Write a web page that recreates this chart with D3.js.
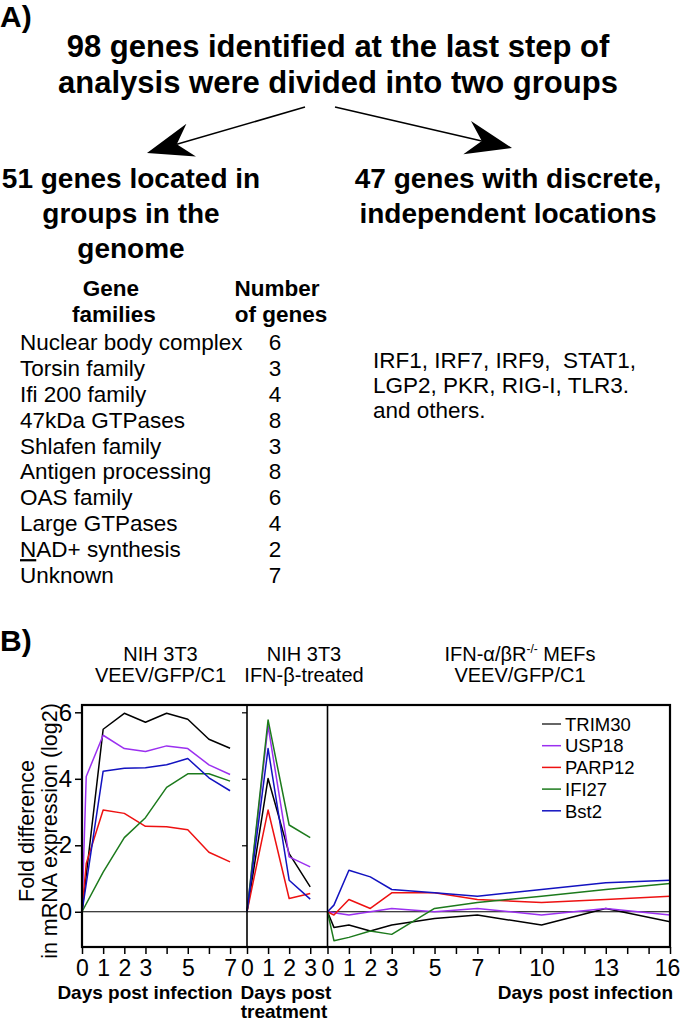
<!DOCTYPE html>
<html><head><meta charset="utf-8">
<script src="https://cdn.jsdelivr.net/npm/d3@7"></script>
<style>
body{margin:0;background:#fff}
svg{display:block}
text{font-family:"Liberation Sans",Arial,Helvetica,sans-serif;fill:#000}
</style>
</head><body>
<svg id="c" width="680" height="1021"></svg>
<script>
// ---------- Panel A content ----------
const titleLines = ["98 genes identified at the last step of", "analysis were divided into two groups"];
const leftHeading = ["51 genes located in", "groups in the", "genome"];
const rightHeading = ["47 genes with discrete,", "independent locations"];
const familyNames = ["Nuclear body complex", "Torsin family", "Ifi 200 family", "47kDa GTPases", "Shlafen family",
  "Antigen processing", "OAS family", "Large GTPases", "NAD+ synthesis", "Unknown"];
const familyCounts = [6, 3, 4, 8, 3, 8, 6, 4, 2, 7];
const otherGenes = ["IRF1, IRF7, IRF9,  STAT1,", "LGP2, PKR, RIG-I, TLR3.", "and others."];

// ---------- Panel B data ----------
const seriesNames = ["TRIM30", "USP18", "PARP12", "IFI27", "Bst2"];
const seriesColors = ["#000000", "#9b30f0", "#ee1111", "#1c7a1c", "#1212c0"];
const legendColors = ["#333333", "#9b30f0", "#ee1111", "#1c7a1c", "#1212c0"];

// NIH 3T3, VEEV/GFP/C1 (days post infection)
const daysInfected = [0, 0.2, 1, 2, 3, 4, 5, 6, 7];
const trim30Infected = [0, null, 5.49, 5.97, 5.70, 5.97, 5.79, 5.19, 4.92];
const usp18Infected = [0, 4.07, 5.31, 4.91, 4.82, 4.99, 4.91, 4.42, 4.13];
const parp12Infected = [0, 1.45, 3.06, 2.96, 2.57, 2.56, 2.47, 1.79, 1.50];
const ifi27Infected = [0, null, 1.19, 2.23, 2.83, 3.74, 4.15, 4.15, 3.93];
const bst2Infected = [0, null, 4.23, 4.32, 4.33, 4.42, 4.61, 4.03, 3.64];

// NIH 3T3, IFN-beta treated (days post treatment)
const daysTreated = [0, 1, 2, 3];
const trim30Treated = [0, 4.01, 1.75, 0.75];
const usp18Treated = [0, 5.59, 1.65, 1.35];
const parp12Treated = [0, 3.06, 0.40, 0.55];
const ifi27Treated = [0, 5.77, 2.61, 2.23];
const bst2Treated = [0, 4.91, 0.95, 0.38];

// IFN-a/bR-/- MEFs, VEEV/GFP/C1 (days post infection)
const daysMef = [0, 0.3, 1, 2, 3, 5, 7, 10, 13, 16];
const trim30Mef = [0, -0.47, -0.40, -0.58, -0.40, -0.20, -0.10, -0.40, 0.10, -0.30];
const usp18Mef = [0, null, -0.10, 0.00, 0.10, 0.00, 0.10, -0.10, 0.10, -0.10];
const parp12Mef = [0, -0.10, 0.37, 0.10, 0.57, 0.57, 0.37, 0.28, 0.37, 0.47];
const ifi27Mef = [0, -0.87, -0.77, -0.58, -0.68, 0.10, 0.28, 0.47, 0.67, 0.85];
const bst2Mef = [0, 0.20, 1.25, 1.05, 0.67, 0.57, 0.47, 0.67, 0.87, 0.95];

// tick labels
const yTicks = [0, 2, 4, 6];
const labelsInfected = [0, 1, 2, 3, 5, 7];
const labelsTreated = [0, 1, 2, 3];
const labelsMef = [0, 1, 2, 3, 5, 7, 10, 13, 16];

const svg = d3.select("#c");
svg.append("rect").attr("width", 680).attr("height", 1021).attr("fill", "#fff");

function txt(x, y, s, size, opts = {}) {
  const t = svg.append("text").attr("x", x).attr("y", y)
    .attr("font-size", size)
    .attr("font-weight", opts.bold ? "bold" : "normal")
    .attr("text-anchor", opts.anchor || "start")
    .style("white-space", "pre")
    .text(s);
  return t;
}

// ---------------- Panel A ----------------
txt(0, 27, "A)", 30, {bold: true});
titleLines.forEach((s, i) => txt(338, 57 + i * 36, s, 31, {bold: true, anchor: "middle"}));

function arrow(x0, y0, xe, ye) {
  const dx = xe - x0, dy = ye - y0, len = Math.hypot(dx, dy);
  const ux = dx / len, uy = dy / len, nx = -uy, ny = ux;
  const L = 46, W = 17, notch = 31;
  const bx = xe - ux * L, by = ye - uy * L;
  const kx = xe - ux * notch, ky = ye - uy * notch;
  svg.append("line").attr("x1", x0).attr("y1", y0).attr("x2", kx).attr("y2", ky)
    .attr("stroke", "#000").attr("stroke-width", 1.5);
  svg.append("path")
    .attr("d", `M${xe},${ye}L${bx + nx * W},${by + ny * W}L${kx},${ky}L${bx - nx * W},${by - ny * W}Z`)
    .attr("fill", "#000");
}
arrow(305, 107, 147, 153);
arrow(335, 107, 512, 148);

leftHeading.forEach((s, i) => txt(131, 188 + i * 35, s, 28, {bold: true, anchor: "middle"}));
rightHeading.forEach((s, i) => txt(508, 188 + i * 35, s, 28, {bold: true, anchor: "middle"}));

txt(111, 296, "Gene", 22.5, {bold: true, anchor: "middle"});
txt(114, 322, "families", 22.5, {bold: true, anchor: "middle"});
txt(277, 296, "Number", 22.5, {bold: true, anchor: "middle"});
txt(281, 322, "of genes", 22.5, {bold: true, anchor: "middle"});

const rowY = d3.scaleLinear().domain([0, familyNames.length - 1]).range([350, 583]);
familyNames.forEach((s, i) => {
  const t = txt(20, rowY(i), "", 22.5);
  if (s.startsWith("NAD")) {
    t.append("tspan").attr("text-decoration", "underline").text("N");
    t.append("tspan").text(s.slice(1));
  } else t.text(s);
  txt(275, rowY(i), String(familyCounts[i]), 22.5, {anchor: "middle"});
});
otherGenes.forEach((s, i) => txt(373, 368 + i * 25, s, 22.5));

// ---------------- Panel B ----------------
txt(0, 651, "B)", 30, {bold: true});

const pTop = 705, pBottom = 947, pLeft = 82, div1 = 247, div2 = 327.5, pRight = 670;
const y = d3.scaleLinear().domain([-1.06, 6.22]).range([pBottom, pTop]);
const xInf = d3.scaleLinear().domain([0, 7.8]).range([pLeft, div1]);
const xTrt = d3.scaleLinear().domain([0, 3.82]).range([div1, div2]);
const xMef = d3.scaleLinear().domain([0, 16]).range([div2, pRight]);

const panels = [
  {x: xInf, days: daysInfected, vals: [trim30Infected, usp18Infected, parp12Infected, ifi27Infected, bst2Infected], labels: labelsInfected, maxDay: 7},
  {x: xTrt, days: daysTreated, vals: [trim30Treated, usp18Treated, parp12Treated, ifi27Treated, bst2Treated], labels: labelsTreated, maxDay: 3},
  {x: xMef, days: daysMef, vals: [trim30Mef, usp18Mef, parp12Mef, ifi27Mef, bst2Mef], labels: labelsMef, maxDay: 16}
];

// zero line
svg.append("line").attr("x1", pLeft).attr("x2", pRight).attr("y1", y(0)).attr("y2", y(0))
  .attr("stroke", "#000").attr("stroke-width", 1.2);

// series lines
panels.forEach(p => {
  p.vals.forEach((arr, si) => {
    const pts = p.days.map((d, i) => [d, arr[i]]).filter(d => d[1] !== null);
    svg.append("path")
      .attr("d", d3.line().x(d => p.x(d[0])).y(d => y(d[1]))(pts))
      .attr("fill", "none").attr("stroke", seriesColors[si]).attr("stroke-width", 1.5)
      .attr("stroke-linejoin", "round");
  });
});

// x axes
panels.forEach((p, pi) => {
  const g = svg.append("g").attr("transform", `translate(0,${pBottom})`)
    .call(d3.axisBottom(p.x).tickValues(d3.range(0, p.maxDay + 1)).tickSize(7).tickPadding(6)
      .tickFormat(d => p.labels.includes(d) ? d : ""));
  g.select(".domain").remove();
  g.selectAll("line").attr("stroke", "#000").attr("stroke-width", 1.5);
  g.selectAll("text").attr("font-size", 23).attr("font-family", null).attr("fill", "#000");
  if (pi === 2) g.selectAll("text").filter(d => d === 16).attr("dx", -3);
});

// y axis
const gy = svg.append("g").attr("transform", `translate(${pLeft},0)`)
  .call(d3.axisLeft(y).tickValues(yTicks).tickSize(7).tickPadding(3));
gy.select(".domain").remove();
gy.selectAll("line").attr("stroke", "#000").attr("stroke-width", 1.5);
gy.selectAll("text").attr("font-size", 24).attr("font-family", null).attr("fill", "#000")
  .attr("text-anchor", "end").attr("x", -10);

// inner ticks on first divider
const gy2 = svg.append("g").attr("transform", `translate(${div1},0)`)
  .call(d3.axisLeft(y).tickValues(yTicks.filter(d => d > 0)).tickSize(5).tickFormat(""));
gy2.select(".domain").remove();
gy2.selectAll("line").attr("stroke", "#000").attr("stroke-width", 1.2);

// frame and dividers
svg.append("rect").attr("x", pLeft).attr("y", pTop).attr("width", pRight - pLeft).attr("height", pBottom - pTop)
  .attr("fill", "none").attr("stroke", "#000").attr("stroke-width", 2.2);
[div1, div2].forEach(xv => svg.append("line").attr("x1", xv).attr("x2", xv).attr("y1", pTop).attr("y2", pBottom)
  .attr("stroke", "#000").attr("stroke-width", 1.6));

// y title
[["Fold difference", 34], ["in mRNA expression (log2)", 57]].forEach(([s, xv]) => {
  svg.append("text").attr("transform", `translate(${xv},831) rotate(-90)`)
    .attr("text-anchor", "middle").attr("font-size", 21.5).text(s);
});

// panel titles
txt(160.5, 661, "NIH 3T3", 20, {anchor: "middle"});
txt(160.5, 682, "VEEV/GFP/C1", 20, {anchor: "middle"});
txt(304, 661, "NIH 3T3", 20, {anchor: "middle"});
txt(304, 682, "IFN-\u03b2-treated", 20, {anchor: "middle"});
const t3 = txt(520, 661, "", 20, {anchor: "middle"});
t3.append("tspan").text("IFN-\u03b1/\u03b2R");
t3.append("tspan").attr("font-size", 12).attr("dy", -8).text("-/-");
t3.append("tspan").attr("dy", 8).text(" MEFs");
txt(520, 682, "VEEV/GFP/C1", 20, {anchor: "middle"});

// x titles
txt(145, 999, "Days post infection", 19, {bold: true, anchor: "middle"});
txt(286, 999, "Days post", 19, {bold: true, anchor: "middle"});
txt(284, 1018, "treatment", 19, {bold: true, anchor: "middle"});
txt(673, 999, "Days post infection", 19, {bold: true, anchor: "end"});

// legend
seriesNames.forEach((s, i) => {
  const ly = 724 + i * 21.7;
  svg.append("line").attr("x1", 542).attr("x2", 561).attr("y1", ly).attr("y2", ly)
    .attr("stroke", legendColors[i]).attr("stroke-width", 1.5);
  txt(565, ly + 6.7, s, 18.5);
});
</script>
</body></html>
